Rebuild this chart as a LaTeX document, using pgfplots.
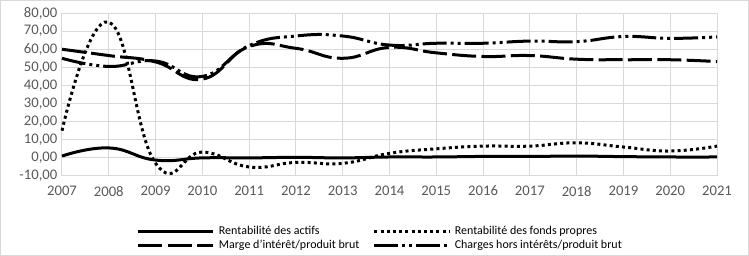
\documentclass[border=0pt]{standalone}
\usepackage{fontspec}
\setmainfont{Carlito}
\usepackage{pgfplots}
\pgfplotsset{compat=1.18}
\definecolor{gridc}{HTML}{D9D9D9}
\definecolor{tickc}{HTML}{595959}
\begin{document}
\begin{tikzpicture}
\useasboundingbox (0,0) rectangle (561.75pt,192pt);
\draw[gridc, line width=0.75pt] (0.375pt,0.375pt) rectangle (561.375pt,191.625pt);
\begin{axis}[
  at={(46.5pt,60pt)}, anchor=south west, scale only axis,
  width=491.25pt, height=122.25pt,
  xmin=2007, xmax=2021, ymin=-10, ymax=80,
  xtick={2007,2008,...,2021},
  xticklabels={2007,2008,2009,2010,2011,2012,2013,2014,2015,2016,2017,2018,2019,2020,2021},
  ytick={-10,0,...,80},
  yticklabel={\pgfmathprintnumber[fixed,fixed zerofill,precision=2,use comma,assume math mode=true]{\tick}},
  ticklabel style={font=\fontsize{11}{13}\selectfont, color=tickc},
  x tick label style={yshift=-4pt},
  major tick length=0pt,
  grid=major, grid style={gridc, line width=0.75pt},
  axis line style={draw=none},
  clip=false,
  legend columns=2,
  legend cell align=left,
  legend style={at={(0.114,-0.298)}, anchor=north west, draw=none, fill=none,
    font=\fontsize{9}{11}\selectfont, inner sep=0pt, row sep=0pt,
    nodes={text height=6.5pt, text depth=2pt, inner ysep=1pt, inner xsep=3pt},
    /tikz/every even column/.append style={column sep=7pt}},
  legend image code/.code={\draw (0pt,0pt) -- (56.25pt,0pt);},
]
% Rentabilite des actifs
\addplot[black, no marks, solid, line width=2.25pt, smooth, tension=0.8] coordinates {(2007,1) (2008,5.5) (2009,-1.2) (2010,0) (2011,0) (2012,0.3) (2013,0) (2014,0.5) (2015,0.5) (2016,0.8) (2017,0.8) (2018,1) (2019,0.7) (2020,0.5) (2021,0.5)};
\addlegendentry{Rentabilité des actifs}
% Rentabilite des fonds propres
\addplot[black, no marks, line width=2.25pt, smooth, tension=0.8, dash pattern=on 2.25pt off 2.4pt] coordinates {(2007,15) (2008,75) (2009,-3) (2010,3.2) (2011,-5) (2012,-2.5) (2013,-3) (2014,2.5) (2015,5) (2016,6.5) (2017,6.5) (2018,8.3) (2019,6) (2020,3.8) (2021,6.5)};
\addlegendentry{Rentabilité des fonds propres}
% Marge d'interet / produit brut
\addplot[black, no marks, line width=2.25pt, smooth, tension=0.8, dash pattern=on 18pt off 4pt] coordinates {(2007,60) (2008,56.5) (2009,53) (2010,43.5) (2011,61.5) (2012,60.5) (2013,55) (2014,61) (2015,58) (2016,56) (2017,56.5) (2018,54.5) (2019,54.2) (2020,54.2) (2021,53.2)};
\addlegendentry{Marge d'intérêt/produit brut}
% Charges hors interets / produit brut
\addplot[black, no marks, line width=2.25pt, smooth, tension=0.8, dash pattern=on 18pt off 3pt on 2.25pt off 3pt on 2.25pt off 3pt] coordinates {(2007,55) (2008,50.5) (2009,53.5) (2010,45) (2011,62) (2012,67.3) (2013,67.3) (2014,62.3) (2015,63.3) (2016,63.3) (2017,64.5) (2018,64.2) (2019,67) (2020,66) (2021,66.8)};
\addlegendentry{Charges hors intérêts/produit brut}
\end{axis}
\end{tikzpicture}
\end{document}
